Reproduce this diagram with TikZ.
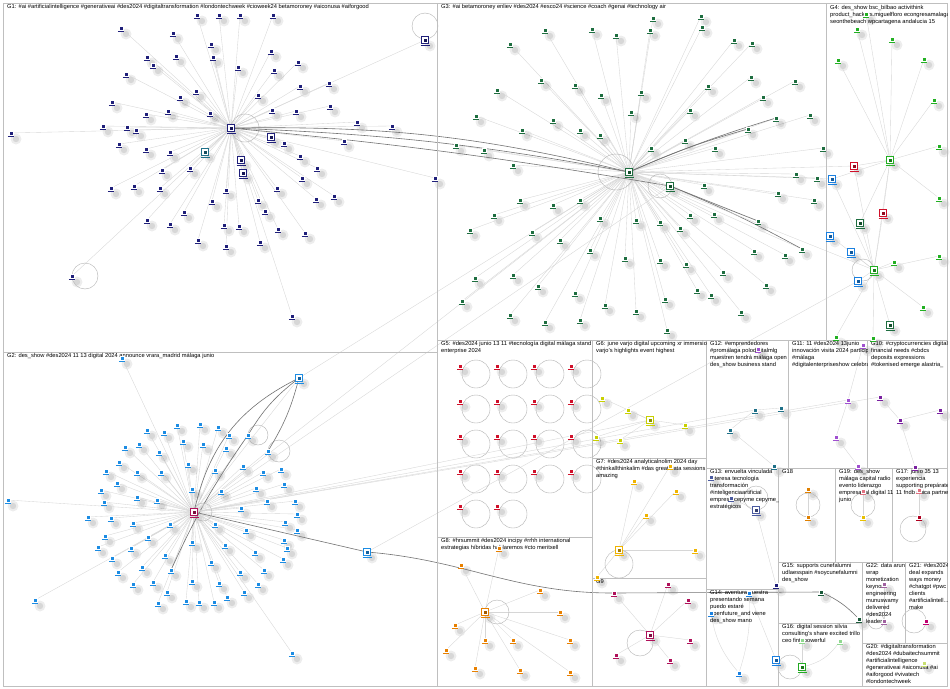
\documentclass[tikz,border=0pt]{standalone}
\usepackage{fontspec}
\setmainfont{Liberation Sans}
\pgfdeclarelayer{bg}
\pgfsetlayers{bg,main}
\definecolor{cA}{HTML}{1F1F7A}
\definecolor{cB}{HTML}{1C8CE3}
\definecolor{cC}{HTML}{1E6E40}
\definecolor{cD}{HTML}{22B022}
\definecolor{cE}{HTML}{D0102A}
\definecolor{cF}{HTML}{C8D000}
\definecolor{cG}{HTML}{F0B400}
\definecolor{cH}{HTML}{E88000}
\definecolor{cI}{HTML}{B0105A}
\definecolor{cJ}{HTML}{7A20A0}
\definecolor{cK}{HTML}{A050D0}
\definecolor{cL}{HTML}{1F7088}
\definecolor{cM}{HTML}{4A5AA0}
\definecolor{cN}{HTML}{1A80E0}
\definecolor{cO}{HTML}{1A5A3A}
\definecolor{cP}{HTML}{22AA22}
\definecolor{cP2}{HTML}{90D890}
\definecolor{cQ}{HTML}{B00020}
\definecolor{cQ2}{HTML}{E07080}
\definecolor{cR}{HTML}{E08000}
\definecolor{cS}{HTML}{E8C000}
\definecolor{cT}{HTML}{C8E070}
\definecolor{cU}{HTML}{C00070}
\definecolor{cV}{HTML}{A060A0}
\newcommand\gn[4]{%
  \node[nd=#4] (#1) at (#2,#3) {};
  \draw[#4,line width=.7] (#2-3.2,#3+3.8) -- (#2+3.2,#3+3.8);
}
\newcommand\gh[4]{%
  \node[hub=#4] (#1) at (#2,#3) {};
  \draw[#4,line width=.8] (#2-4.5,#3+5.5) -- (#2+4.5,#3+5.5);
}
\newcommand\shd[1]{%
  \fill[black,opacity=.07] ([shift={(5,6)}]#1.center) circle (5.5);
  \fill[black,opacity=.09] ([shift={(5,6)}]#1.center) circle (3.2);
}
\newcommand\lab[6]{\begin{scope}\clip (#2,#3) rectangle (#4,#5);
  \node[lbl] (#1) at (#2+4,#3+1.5) {#6};\end{scope}}
\def\LA{197/15,219/15,240/15,273/15,121/28,173/33,211/44,147/57,176/56,213/57,238/67,271/51,298/62,274/70,126/74,153/65,300/86,329/83,112/102,146/114,168/111,180/97,196/91,210/113,258/95,272/110,296/111,330/106,357/122,103/126,127/127,136/130,119/144,146/149,170/152,162/170,190/168,284/143,300/156,317/168,344/141,392/126,11/133,111/188,134/186,160/188,184/212,212/201,226/190,258/200,277/188,302/178,316/199,334/196,265/211,147/220,170/224,224/225,239/226,278/229,305/233,198/240,226/246,260/242,72/276,292/316,435/178}
\def\LB{147/430,164/432,177/425,200/424,218/427,229/435,248/435,268/451,125/447,139/444,159/452,183/441,203/444,226/448,119/462,106/471,137/472,161/472,188/464,215/470,243/466,263/472,281/469,117/483,101/490,104/502,137/497,157/500,192/489,221/491,256/488,267/501,284/484,295/501,241/508,297/514,88/517,111/518,133/523,170/524,215/524,246/530,285/522,297/530,105/536,148/537,192/542,98/547,131/548,225/545,284/540,287/548,255/552,165/555,112/558,283/559,142/567,171/570,211/562,264/570,118/572,240/572,133/584,153/582,192/581,219/583,258/584,167/592,244/592,227/597,158/603,186/601,199/602,214/602,122/358,35/600,8/500,292/653}
\def\LC{653/18,650/30,616/35,592/29,545/30,510/44,641/92,631/112,601/95,575/85,541/80,497/90,476/116,456/145,484/150,513/165,522/130,553/120,580/130,600/135,651/148,685/140,690/110,690/215,680/228,660/222,636/220,600/218,580/200,553/205,520/200,494/215,470/230,532/232,560/240,590/250,625/258,660/260,686/264,697/290,665/299,636/311,605/305,575/293,538/286,513/275,475/278,462/301,510/315,545/322,580/320,667/330,701/16,702/27,734/40,752/43,708/86,751/77,795/81,763/97,810/115,776/118,748/129,715/148,823/148,796/174,817/178,704/185,778/193,814/200,714/214,758/221,802/249,754/251,785/255,723/272,766/285,711/295,741/312}
\def\LDa{857/29,892/39,838/60,924/59,934/100,939/146,939/198,866/14}
\def\LDb{894/262,939/256,923/307,836/337,873/338}
\begin{document}
\begin{tikzpicture}[x=1pt,y=-1pt,
  nd/.style={draw=white,fill=#1,minimum size=4.4pt,inner sep=0pt,line width=.6pt,outer sep=0pt},
  hub/.style={draw=#1,fill=white,minimum size=7pt,inner sep=0pt,line width=1pt,outer sep=0pt,
     path picture={\fill[#1!70!black] (path picture bounding box.center) ++(-1.5,-1.5) rectangle ++(3,3);}},
  box/.style={draw=black!25,line width=.7pt},
  lbl/.style={anchor=north west,inner sep=0pt,font=\fontsize{5.75}{6.9}\selectfont,align=left},
  edge/.style={draw=black!16,line width=.35pt},
  dk/.style={draw=black!55,line width=.6pt},
  lp/.style={draw=black!30,line width=.4pt}]
\useasboundingbox (0,0) rectangle (950,688);
% ---------- boxes ----------
\draw[box] (3,3) rectangle (437,352);
\draw[box] (3,352) rectangle (437,686);
\draw[box] (437,3) rectangle (826,340);
\draw[box] (826,3) rectangle (947,340);
\draw[box] (437,340) rectangle (592,537);
\draw[box] (592,340) rectangle (706,458);
\draw[box] (592,458) rectangle (706,578);
\draw[box] (437,537) rectangle (592,686);
\draw[box] (592,578) rectangle (706,686);
\draw[box] (706,340) rectangle (788,468);
\draw[box] (788,340) rectangle (867,468);
\draw[box] (867,340) rectangle (947,468);
\draw[box] (706,468) rectangle (778,589);
\draw[box] (706,589) rectangle (778,686);
\draw[box] (778,468) rectangle (835,562);
\draw[box] (835,468) rectangle (892,562);
\draw[box] (892,468) rectangle (947,562);
\draw[box] (778,562) rectangle (862,623);
\draw[box] (778,623) rectangle (862,686);
\draw[box] (862,562) rectangle (905,643);
\draw[box] (905,562) rectangle (947,643);
\draw[box] (862,643) rectangle (947,686);
% ---------- labels ----------
\lab{l1}{3}{3}{437}{352}{G1: \#ai \#artificialintelligence \#generativeai \#des2024 \#digitaltransformation \#londontechweek \#cioweek24 betamoroney \#aiconusa \#aiforgood}
\lab{l3}{437}{3}{826}{340}{G3: \#ai betamoroney enliev \#des2024 \#esco24 \#science \#coach \#genai \#technology air}
\lab{l4}{826}{4}{947}{340}{G4: des\_show bsc\_bilbao activithink\\product\_hackers.miguelfloro econgresamalaga\\seonthebeach wpcartagena andalucia 15}
\lab{l2}{3}{352}{437}{686}{G2: des\_show \#des2024 11 13 digital 2024 announce vrara\_madrid málaga junio}
\lab{l5}{437}{340}{592}{537}{G5: \#des2024 junio 13 11 \#tecnología digital málaga stand\\enterprise 2024}
\lab{l6}{592}{340}{706}{458}{G6: june varjo digital upcoming xr immersion\\varjo's highlights event highest}
\lab{l12}{706}{340}{788}{468}{G12: \#emprendedores\\\#promálaga polodigitalmlg\\muestren tendrá málaga open\\des\_show business stand}
\lab{l11}{788}{340}{867}{468}{G11: 11 \#des2024 13junio\\innovación visita 2024 participa\\\#málaga\\\#digitalenterpriseshow celebra}
\lab{l10}{867}{340}{947}{468}{G10: \#cryptocurrencies digital\\financial needs \#cbdcs\\deposits expressions\\\#tokenised emerge alastria\_}
\lab{l7}{592}{458}{706}{578}{G7: \#des2024 analyticalnolim 2024 day\\\#thinkallthinkalim \#das great data sessions\\amazing}
\lab{l13}{706}{468}{778}{589}{G13: envuelta vinculada\\interesa tecnología\\transformación\\\#inteligenciaartificial\\empresa cepyme cepyme\_\\estratégicos}
\lab{l18}{778}{468}{835}{562}{G18}
\lab{l19}{835}{468}{892}{562}{G19: des\_show\\málaga capital radio\\evento liderazgo\\empresarial digital 11\\junio}
\lab{l17}{892}{468}{947}{562}{G17: junio 35 13\\experiencia\\supporting prepárate\\11 fndb única partner}
\lab{l8}{437}{537}{592}{686}{G8: \#hrsummit \#des2024 incipy \#rrhh international\\estrategias híbridas hablaremos \#cto meritxell}
\lab{l9}{592}{578}{706}{686}{G9}
\lab{l15}{778}{562}{862}{623}{G15: supports cunefalumni\\udlaesspain \#soycunefalumni\\des\_show}
\lab{l22}{862}{562}{905}{643}{G22: data arun\\wrap\\monetization\\keynote\\engineering\\munuswamy\\delivered\\\#des2024\\leaders}
\lab{l21}{905}{562}{947}{643}{G21: \#des2024\\deal expands\\ways money\\\#chatgpt \#pwc\\clients\\\#artificialintell...\\make}
\lab{l14}{706}{589}{778}{686}{G14: aventura nuestra\\presentando semana\\puedo estaré\\openfuture\_and viene\\des\_show mano}
\lab{l16}{778}{623}{862}{686}{G16: digital session silvia\\consulting's share excited trillo\\ceo fintt powerful}
\lab{l20}{862}{643}{947}{686}{G20: \#digitaltransformation\\\#des2024 \#dubaitechsummit\\\#artificialintelligence\\\#generativeai \#aiconusa \#ai\\\#aiforgood \#vivatech\\\#londontechweek}
% ---------- hubs ----------
\gh{g1h}{231}{128}{cA}
\gh{g1b}{241}{160}{cA}
\gh{g1c}{243}{173}{cA}
\gh{g1d}{205}{152}{cL}
\gh{g1e}{271}{137}{cA}
\gh{g1f}{425}{40}{cA}
\gh{g2h}{194}{512}{cI}
\gh{g2b}{299}{378}{cB}
\gh{g2c}{367}{552}{cB}
\gh{g3h}{629}{172}{cC}
\gh{g3b}{670}{186}{cC}
\gh{g4a}{890}{160}{cD}
\gh{g4h}{874}{270}{cD}
\gh{g4r1}{854}{166}{cE}
\gh{g4r2}{883}{213}{cE}
\gh{g4k1}{860}{223}{cC}
\gh{g4k2}{890}{325}{cC}
\gh{g4b1}{832}{179}{cN}
\gh{g4b2}{830}{236}{cN}
\gh{g4b3}{851}{252}{cN}
\gh{g4b4}{858}{281}{cN}
% ---------- nodes ----------
\foreach \x/\y [count=\i] in \LA {\gn{g1n\i}{\x}{\y}{cA}}
\foreach \x/\y [count=\i] in \LB {\gn{g2n\i}{\x}{\y}{cB}}
\foreach \x/\y [count=\i] in \LC {\gn{g3n\i}{\x}{\y}{cC}}
\foreach \x/\y [count=\i] in \LDa {\gn{g4m\i}{\x}{\y}{cD}}
\foreach \x/\y [count=\i] in \LDb {\gn{g4n\i}{\x}{\y}{cD}}
% G5
\foreach \x/\y [count=\i] in {460/366,497/366,534/366,571/366,460/401,497/401,534/401,571/401,460/436,497/436,534/436,571/436,460/471,497/471,534/471,571/471,460/506,497/506}
 {\gn{g5n\i}{\x}{\y}{cE}}
% G6
\gh{g6h}{650}{420}{cF}
\foreach \x/\y [count=\i] in {602/398,628/410,685/425,596/437,620/440} {\gn{g6n\i}{\x}{\y}{cF}}
% G7
\gh{g7h}{619}{550}{cG}
\foreach \x/\y [count=\i] in {670/466,634/481,695/550,597/577,646/515,676/491} {\gn{g7n\i}{\x}{\y}{cG}}
% G8
\gh{g8h}{485}{612}{cH}
\foreach \x/\y [count=\i] in {499/548,461/565,485/640,455/625,513/640,560/612,540/590,570/640,520/670,475/668,446/650,570/672} {\gn{g8n\i}{\x}{\y}{cH}}
% G9
\gh{g9h}{650}{635}{cI}
\gn{g9a}{614}{593}{cI}
\foreach \x/\y [count=\i] in {668/584,688/600,616/655,690/640,670/660} {\gn{g9n\i}{\x}{\y}{cI}}
% small groups
\gn{g10a}{880}{397}{cJ}\gn{g10b}{900}{420}{cJ}\gn{g10c}{940}{410}{cJ}\gn{g10d}{915}{467}{cJ}
\gn{g11a}{848}{400}{cK}\gn{g11b}{836}{437}{cK}\gn{g11c}{863}{345}{cK}\gn{g11d}{858}{466}{cK}\gn{g11e}{758}{349}{cK}
\gn{g12a}{730}{430}{cL}\gn{g12b}{755}{410}{cL}\gn{g12c}{781}{408}{cL}\gn{g12d}{774}{466}{cL}
\gn{g13a}{711}{477}{cM}\gn{g13c}{731}{498}{cM}\gh{g13b}{756}{510}{cM}\gn{g13d}{776}{585}{cA}
\gn{g18a}{808}{489}{cR}\gn{g18b}{808}{517}{cR}
\gn{g19a}{863}{517}{cS}\gn{g19b}{863}{491}{cQ2}
\gn{g17a}{919}{490}{cQ2}\gn{g17b}{919}{517}{cQ}
\gn{g14a}{749}{593}{cN}\gn{g14b}{711}{613}{cN}\gn{g14c}{739}{673}{cN}\gh{g14d}{776}{660}{cN}
\gn{g15a}{821}{592}{cO}\gn{g15b}{859}{619}{cO}
\gh{g16a}{802}{667}{cP}\gn{g16b}{840}{641}{cP2}\gn{g16c}{802}{640}{cP2}
\gn{g22a}{884}{584}{cV}\gn{g22b}{884}{621}{cV}
\gn{g21a}{926}{621}{cU}
\gn{g20a}{924}{663}{cT}
% ---------- background: shadows and edges ----------
\begin{pgfonlayer}{bg}
\fill[white] (0,0) rectangle (950,688);
\foreach \n in {g1h,g1b,g1c,g1d,g1e,g1f,g2h,g2b,g2c,g3h,g3b,g4a,g4h,g4r1,g4r2,g4k1,g4k2,g4b1,g4b2,g4b3,g4b4,g6h,g7h,g8h,g9h,g9a,g10a,g10b,g10c,g10d,g11a,g11b,g11c,g11d,g11e,g12a,g12b,g12c,g12d,g13a,g13b,g13c,g13d,g18a,g18b,g19a,g19b,g17a,g17b,g14a,g14b,g14c,g14d,g15a,g15b,g16a,g16b,g16c,g22a,g22b,g21a,g20a} {\shd{\n}}
\foreach \x/\y [count=\i] in \LA {\shd{g1n\i}\draw[edge] (g1h)--(g1n\i);}
\foreach \x/\y [count=\i] in \LB {\shd{g2n\i}\draw[edge] (g2h)--(g2n\i);}
\foreach \x/\y [count=\i] in \LC {\shd{g3n\i}\draw[edge] (g3h)--(g3n\i);}
\foreach \x/\y [count=\i] in \LDa {\shd{g4m\i}\draw[edge] (g4a)--(g4m\i);}
\foreach \x/\y [count=\i] in \LDb {\shd{g4n\i}\draw[edge] (g4h)--(g4n\i);}
\foreach \i in {1,...,18} {\shd{g5n\i}\draw[lp] ([shift={(16,8)}]g5n\i.center) circle (14);}
\foreach \i in {1,...,5} {\shd{g6n\i}\draw[edge] (g6h)--(g6n\i);}
\foreach \i in {1,...,6} {\shd{g7n\i}\draw[edge] (g7h)--(g7n\i);}
\foreach \i in {1,...,12} {\shd{g8n\i}\draw[edge] (g8h)--(g8n\i);}
\foreach \i in {1,...,5} {\shd{g9n\i}\draw[edge] (g9h)--(g9n\i);}
\draw[edge] (g9h)--(g9a);
\foreach \n in {g1b,g1c,g1d,g1e,g1f} \draw[edge] (g1h)--(\n);
\draw[lp] ([xshift=14]g1h.center) circle (14);
\draw[lp] ([yshift=14]g1f.center) circle (13);
\draw[lp] ([xshift=13]g1n65.center) circle (13);
\draw[edge] (g2h)--(g2b);
\draw[lp] ([xshift=10]g2n7.center) circle (10);
\draw[lp] ([xshift=11]g2n8.center) circle (11);
\draw[lp] ([xshift=9]g2h.center) circle (9);
\draw[dk] (g2b) to[bend right=10] (g2n7);
\draw[dk] (g2b) to[bend left=8] (g2n8);
\draw[dk] (g2b) to[bend right=25] (g2h);
\draw[dk] (g2n7) to[bend right=5] (g2n58);
\draw[dk] (g2h) -- (g2c) to[out=-5,in=180] (g9a) -- (g15a);
\draw[edge] (g3h)--(g3b);
\draw[lp] ([xshift=-13]g3h.center) circle (18);
\draw[lp] ([xshift=-10]g3b.center) circle (12);
\draw[dk] (g1h) to[bend left=4] (g3h);
\draw[dk] (g1h) to[bend left=7] (g3h);
\draw[dk] (g1h) to[bend left=2] (g3b);
\draw[dk] (g3h) to[bend left=4] (g3n63);
\draw[dk] (g3h) to[bend left=3] (g3n62);
\draw[dk] (g3b) to[bend left=3] (g3n73);
\draw[dk] (g3b) -- (g3n72);
\draw[edge] (g2b) -- (g3h);
\draw[edge] (g2h) -- (g3h);
\draw[edge] (g2h) -- (g3b);
\draw[edge] (g2h) -- (g12b);
\draw[edge] (g2h) -- (g11a);
\draw[edge] (g2h) -- (g6h);
\draw[edge] (g2h) -- (g10a);
\draw[edge] (g2c) -- (g4b4);
\foreach \n in {g4r1,g4r2,g4k1,g4k2,g4b1,g4b2,g4b3,g4b4,g4a} \draw[edge] (g4h)--(\n);
\foreach \n in {g4r1,g4b1,g4r2,g4k1} \draw[edge] (g4a)--(\n);
\draw[lp] ([xshift=-11]g4h.center) circle (11);
\draw[edge] (g3h) -- (g4h);
\draw[edge] (g3h) -- (g4r1);
\draw[edge] (g3h) -- (g4b1);
\draw[lp] ([yshift=-14]g7h.center) circle (14);
\draw[lp] ([xshift=12]g8h.center) circle (12);
\draw[lp] ([shift={(-10,8)}]g9h.center) circle (13);
\draw[edge] (g10a)--(g10b); \draw[edge] (g10b)--(g10c); \draw[edge] (g10b)--(g10d);
\draw[edge] (g11a)--(g11b); \draw[edge] (g11a)--(g11c); \draw[edge] (g11b)--(g11d);
\draw[edge] (g12a)--(g12b); \draw[edge] (g12b)--(g12c); \draw[edge] (g12a)--(g12d);
\draw[edge] (g13a)--(g13c); \draw[edge] (g13c)--(g13b); \draw[edge] (g13b)--(g13d);
\draw[lp] ([yshift=12]g13b.center) circle (12);
\draw[edge] (g18a)--(g18b); \draw[lp] ([yshift=12]g18b.center) circle (12);
\draw[edge] (g19b)--(g19a); \draw[lp] ([yshift=12]g19a.center) circle (12);
\draw[edge] (g17a)--(g17b); \draw[lp] ([shift={(-6,12)}]g17b.center) circle (13);
\draw[edge] (g14a) to[bend left=10] (g14c);
\draw[edge] (g14b) to[bend right=15] (g14c);
\draw[edge] (g14a) -- (g14d);
\draw[dk] (g15a) to[bend left=10] (g15b);
\draw[edge] (g16a) to[bend right=20] (g16b);
\draw[edge] (g16c) -- (g16a);
\draw[lp] ([xshift=-12]g16a.center) circle (12);
\draw[edge] (g22a)--(g22b); \draw[lp] ([xshift=-8]g22b.center) circle (8);
\draw[lp] ([xshift=-12]g21a.center) circle (12);
\end{pgfonlayer}
\end{tikzpicture}
\end{document}
